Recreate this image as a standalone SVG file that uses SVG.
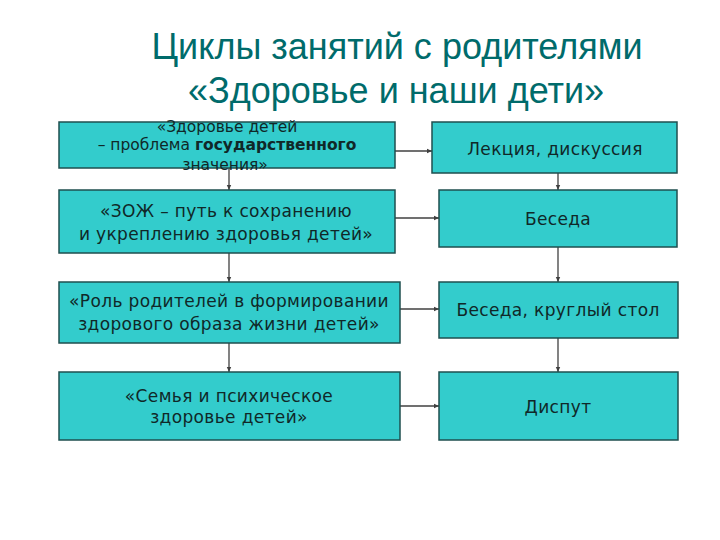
<svg xmlns="http://www.w3.org/2000/svg" width="720" height="540" viewBox="0 0 720 540">
<style>
.box{fill:#33CCCC;stroke:#1f4f4f;stroke-width:1.5}
.t{font-family:"DejaVu Sans",Verdana,sans-serif;font-size:17px;letter-spacing:0.35px;fill:#102828;text-anchor:middle}
.s{font-family:"DejaVu Sans",Verdana,sans-serif;font-size:15.5px;fill:#102828;text-anchor:middle}
.title{font-family:"Liberation Sans",Arial,sans-serif;font-size:36px;fill:#006b6b;text-anchor:middle}
.c{stroke:#404040;stroke-width:1.3;fill:none;marker-end:url(#ah)}
</style>
<defs>
<marker id="ah" markerWidth="6" markerHeight="6" refX="5" refY="3" orient="auto" markerUnits="userSpaceOnUse">
<path d="M0,0.8 L5,3 L0,5.2 Z" fill="#404040"/>
</marker>
</defs>
<rect width="720" height="540" fill="#ffffff"/>
<g id="title">
<text class="title" x="397" y="59">Циклы занятий с родителями</text>
<text class="title" x="396" y="103">«Здоровье и наши дети»</text>
</g>
<g id="connectors">
<line class="c" x1="395" y1="151" x2="432" y2="151"/>
<line class="c" x1="395" y1="218" x2="439" y2="218"/>
<line class="c" x1="400" y1="309" x2="439" y2="309"/>
<line class="c" x1="400" y1="406" x2="439" y2="406"/>
<line class="c" x1="229" y1="168" x2="229" y2="190"/>
<line class="c" x1="229" y1="253" x2="229" y2="282"/>
<line class="c" x1="229" y1="343" x2="229" y2="372"/>
<line class="c" x1="558" y1="173" x2="558" y2="190"/>
<line class="c" x1="558" y1="247" x2="558" y2="282"/>
<line class="c" x1="558" y1="338" x2="558" y2="372"/>
</g>
<g id="n1">
<rect class="box" x="59" y="122" width="336" height="46"/>
<text class="s" x="227" y="132">«Здоровье детей</text>
<text class="s" x="227" y="150">– проблема <tspan font-weight="bold">государственного</tspan></text>
<text class="s" x="225" y="170">значения»</text>
</g>
<g id="n2">
<rect class="box" x="59" y="190" width="336" height="63"/>
<text class="t" x="226" y="217">«ЗОЖ – путь к  сохранению</text>
<text class="t" x="226" y="240">и укреплению здоровья детей»</text>
</g>
<g id="n3">
<rect class="box" x="59" y="282" width="341" height="61"/>
<text class="t" x="229" y="307">«Роль родителей в формировании</text>
<text class="t" x="229" y="330">здорового образа жизни детей»</text>
</g>
<g id="n4">
<rect class="box" x="59" y="372" width="341" height="68"/>
<text class="t" x="229" y="402">«Семья и психическое</text>
<text class="t" x="229" y="423">здоровье детей»</text>
</g>
<g id="r1">
<rect class="box" x="432" y="122" width="245" height="51"/>
<text class="t" x="555" y="155">Лекция, дискуссия</text>
</g>
<g id="r2">
<rect class="box" x="439" y="190" width="238" height="57"/>
<text class="t" x="558" y="225">Беседа</text>
</g>
<g id="r3">
<rect class="box" x="439" y="282" width="239" height="56"/>
<text class="t" x="558" y="316">Беседа, круглый стол</text>
</g>
<g id="r4">
<rect class="box" x="439" y="372" width="239" height="68"/>
<text class="t" x="558" y="413">Диспут</text>
</g>
</svg>
